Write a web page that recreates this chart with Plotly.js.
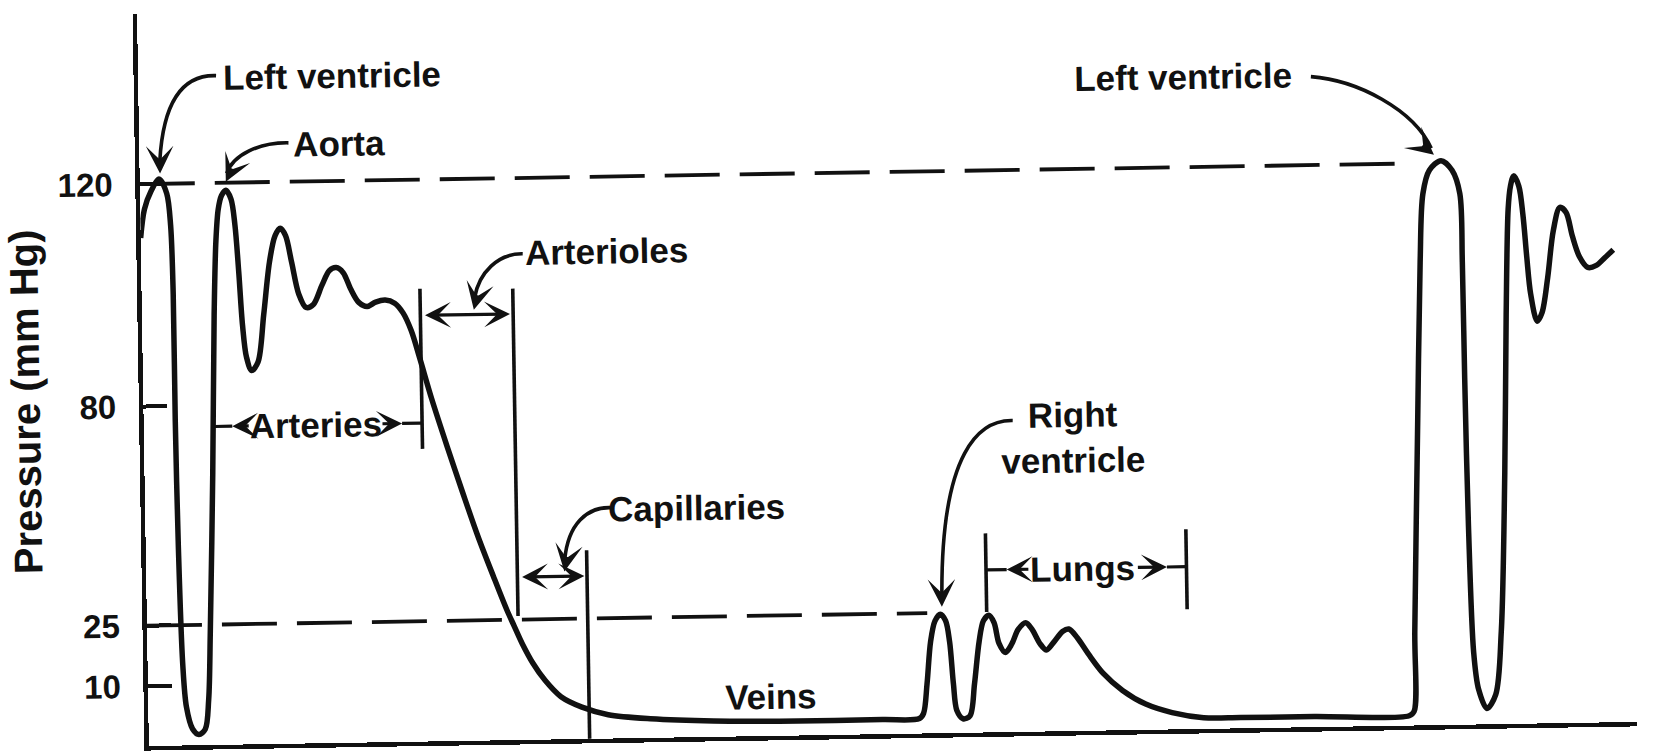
<!DOCTYPE html>
<html>
<head>
<meta charset="utf-8">
<script src="https://cdn.plot.ly/plotly-3.0.1.min.js"></script>
<style>
html,body{margin:0;padding:0;background:#fff;overflow:hidden;}
#chart{width:1653px;height:754px;transform:rotate(-0.93deg);transform-origin:50% 50%;}
</style>
</head>
<body>
<div id="chart"></div>
<script>
// Pressure trace along the circulation (schematic; x = position along the circuit, y = drawn pressure level)
const curveX = [136,140,146.4,154.6,161.4,164.6,166,166,167,169.3,
172.2,177.7,183.6,189.7,193.4,196,200.75,204.5,207.3,210,
213.3,217.5,222.25,225.6,228.5,231.25,234.5,239.2,245.4,251.5,
257.75,263.4,268.5,273.4,278.75,285,291.7,298.75,307.2,314.5,
320.9,327.5,334.1,341.8,349.7,357.8,366.9,375.8,383.6,391.1,
398.5,409.5,423.4,437.3,451.25,465.3,477.5,484.1,491.7,501.25,
512.8,527.5,547.2,572,611.9,671.9,751.9,832,867,871,
874.75,878.75,883.25,888.4,893.25,896.75,899.75,902.6,908.4,915,
919.75,924.75,929.25,934.4,939.2,943.7,949.5,955.7,962,969.2,
975,982.7,988.5,995.75,1004,1010,1017.9,1028.5,1042,1060,
1081.75,1106.7,1136.5,1171.4,1241.4,1331.4,1336.1,1338,1344,1348.75,
1352.4,1358.9,1370.1,1380.4,1387.4,1388.75,1389.2,1390.5,1393.5,1397.6,
1405.2,1413.75,1420,1425.75,1429.5,1433,1435.5,1438.75,1443.45,1446.9,
1449.9,1453,1458.85,1463.55,1469.4,1475.5,1482.05,1487.9,1493.4,1499.9,
1507.6,1515.7,1523.85,1532.05];
const curveY = [108.5,114.6,118.4,121,117.9,111.1,96.5,69.4,42.4,17.6,
8.2,3.5,2.3,3.4,9.7,24.3,58.1,91.9,107.6,114.4,
117.3,118.4,116.5,110.9,100.8,89.5,82.7,79.8,81.6,91.7,
102.9,108.5,110.1,108.5,102.8,96.0,93.1,93.7,97.8,100.9,
101.5,100.4,97.0,94.0,93.1,94.0,94.4,93.7,91.6,87.8,
82.1,73.1,62.9,53.1,43.6,35.0,27.8,24.4,20.5,16.4,
12.6,9.1,6.8,5.1,4.1,3.4,3.1,3.1,3.2,4.3,
10.6,19.6,24.0,25.4,24.0,19.5,10.5,4.8,3.0,3.6,
10.4,19.4,23.9,25.0,23.4,18.9,17.0,18.8,21.9,23.3,
21.9,18.7,17.4,19.1,21.3,21.8,19.9,16.3,12.2,8.5,
5.5,3.6,2.4,2.3,2.25,2.1,3.0,20.1,65.1,98.9,
113.5,118.5,120.5,118.4,113.4,98.8,74.0,42.5,15.4,7.5,
3.4,6.3,19.8,53.6,87.4,109.9,114.8,117.0,114.8,108.7,
99.7,91.8,85.9,87.7,95.1,105.2,110.1,109.0,104.0,99.5,
97.2,97.6,99.2,100.9];

// Axis ticks (mm Hg) as drawn on the schematic pressure axis
const tickVals = [12.8, 25.7, 72.5, 120];
const tickText = ['10', '25', '80', '120'];

// Dashed reference levels (120 and 25 mm Hg) and where they stop
const refLevels = [120, 25.7];
const refStart = [136, 136];
const refEnd = [1345, 876];

// Region labels
const labelText = ['Left ventricle', 'Aorta', 'Arterioles', 'Arteries', 'Capillaries', 'Veins', 'Right<br>ventricle', 'Lungs', 'Left ventricle'];
const labelX = [320, 325.6, 577, 298.9, 658.9, 726, 1016.6, 1024.5, 1127.2];
const labelY = [142.5, 128.1, 104.0, 68.0, 49.0, 8.4, 62.7, 34.6, 139.4];

const INK = '#111';
const FONT = 'Liberation Sans, Arial, Helvetica, sans-serif';

const traces = [];
refLevels.forEach((lvl, i) => {
  traces.push({
    x: [refStart[i], refEnd[i]], y: [lvl, lvl], type: 'scatter', mode: 'lines',
    line: {color: INK, width: 3.8, dash: '55px,20px'}, hoverinfo: 'skip'
  });
});
traces.push({
  x: curveX, y: curveY, type: 'scatter', mode: 'lines',
  line: {color: INK, width: 5.5, shape: 'spline', smoothing: 0.9}, hoverinfo: 'skip'
});

const shapes = [];
function seg(x0, y0, x1, y1, w) {
  shapes.push({type: 'line', xref: 'x', yref: 'y', x0: x0, x1: x1, y0: y0, y1: y1, line: {color: INK, width: w || 3.6}});
}
// bracket bars
seg(400, 62.5, 400, 96.7);
seg(488, 26.5, 488, 96.4);
seg(554, 0, 554, 40.3);
seg(932.4, 25.7, 932.4, 42.5);
seg(1122.5, 25.6, 1122.5, 42.7);

const curvedPaths = [
  'M210,142.9 C183,143.2 160,139 155.4,125',
  'M277.6,128.3 C250,128.5 225,126 218.6,122',
  'M498,103.8 C475,104 456,100 451.6,94.5',
  'M577,49.3 C555,49.5 537,46 533.2,38.5',
  'M960,66.5 C928,66.8 892,60 890.2,30',
  'M1248,138.9 C1292,138 1345,131.5 1361,123.2'
];
curvedPaths.forEach(p => shapes.push({type: 'path', xref: 'x', yref: 'y', path: p, line: {color: INK, width: 3.6}}));

const annotations = [];
labelText.forEach((t, i) => {
  annotations.push({
    x: labelX[i], y: labelY[i], xref: 'x', yref: 'y', text: '<b>' + t + '</b>', showarrow: false,
    xanchor: 'center', yanchor: 'middle', font: {family: FONT, size: 35, color: INK}
  });
});
// arrowheads for the curved pointers
const heads = [
  [155.4, 122.2, 0, -16], [217.6, 120.2, 7, -14], [450.8, 92, 4, -16],
  [532.6, 35.8, 3, -16], [890, 27, 0, -16], [1363.5, 121.8, -12, -10]
];
heads.forEach(h => annotations.push({
  x: h[0], y: h[1], xref: 'x', yref: 'y', ax: h[2], ay: h[3], text: '', showarrow: true,
  arrowhead: 3, arrowsize: 1.35, arrowwidth: 3.4, arrowcolor: INK, standoff: 0
}));
// double arrows with heads at the bars
function span2(x0, x1, y) {
  annotations.push({
    x: x1, y: y, ax: x0, ay: y, xref: 'x', yref: 'y', axref: 'x', ayref: 'y', text: '', showarrow: true,
    arrowhead: 3, arrowsize: 1.35, arrowwidth: 3.2, arrowcolor: INK, standoff: 0,
    arrowside: 'end+start', startarrowhead: 3, startarrowsize: 1.35, startstandoff: 0
  });
}
span2(403, 485, 91.0);
span2(491, 551.5, 34.8);
// label arrows with the head mid-shaft, pointing to the bar
function spanMid(textX, headX, barX, y) {
  seg(barX, y, headX, y, 3.2);
  annotations.push({
    x: headX, y: y, ax: textX, ay: y, xref: 'x', yref: 'y', axref: 'x', ayref: 'y', text: '', showarrow: true,
    arrowhead: 3, arrowsize: 1.35, arrowwidth: 3.2, arrowcolor: INK, standoff: 0
  });
}
spanMid(237, 220, 203, 68.0);
spanMid(361, 381, 399, 68.0);
spanMid(974, 952, 932.4, 34.7);
spanMid(1075, 1104, 1122.5, 34.7);
// arrow tip on top of the pressure axis
annotations.push({x: 135, y: 156.3, ax: 135, ay: 148, xref: 'x', yref: 'y', axref: 'x', ayref: 'y', text: '',
  showarrow: true, arrowhead: 2, arrowsize: 1, arrowwidth: 3, arrowcolor: INK, standoff: 0});
// axis title
annotations.push({x: -0.0788, y: 0.4735, xref: 'paper', yref: 'paper', text: '<b>Pressure (mm Hg)</b>',
  textangle: -90, showarrow: false, xanchor: 'center', yanchor: 'middle', font: {family: FONT, size: 40, color: INK}});

const layout = {
  width: 1653, height: 754,
  margin: {l: 143, r: 22, t: 3, b: 19, pad: 0},
  paper_bgcolor: '#fff', plot_bgcolor: '#fff',
  showlegend: false,
  xaxis: {range: [136, 1547], showticklabels: false, ticks: '', showgrid: false, zeroline: false,
    showline: true, linewidth: 4.5, linecolor: INK},
  yaxis: {range: [0, 156.3], tickmode: 'array', tickvals: tickVals, ticktext: tickText,
    ticks: 'inside', ticklen: 24, tickwidth: 4, tickcolor: INK, showgrid: false, zeroline: false,
    showline: true, linewidth: 4.5, linecolor: INK, ticklabelstandoff: 16,
    tickfont: {family: FONT, size: 33, color: INK, weight: 'bold'}},
  shapes: shapes,
  annotations: annotations
};

Plotly.newPlot('chart', traces, layout, {displayModeBar: false, staticPlot: true});
</script>
</body>
</html>
